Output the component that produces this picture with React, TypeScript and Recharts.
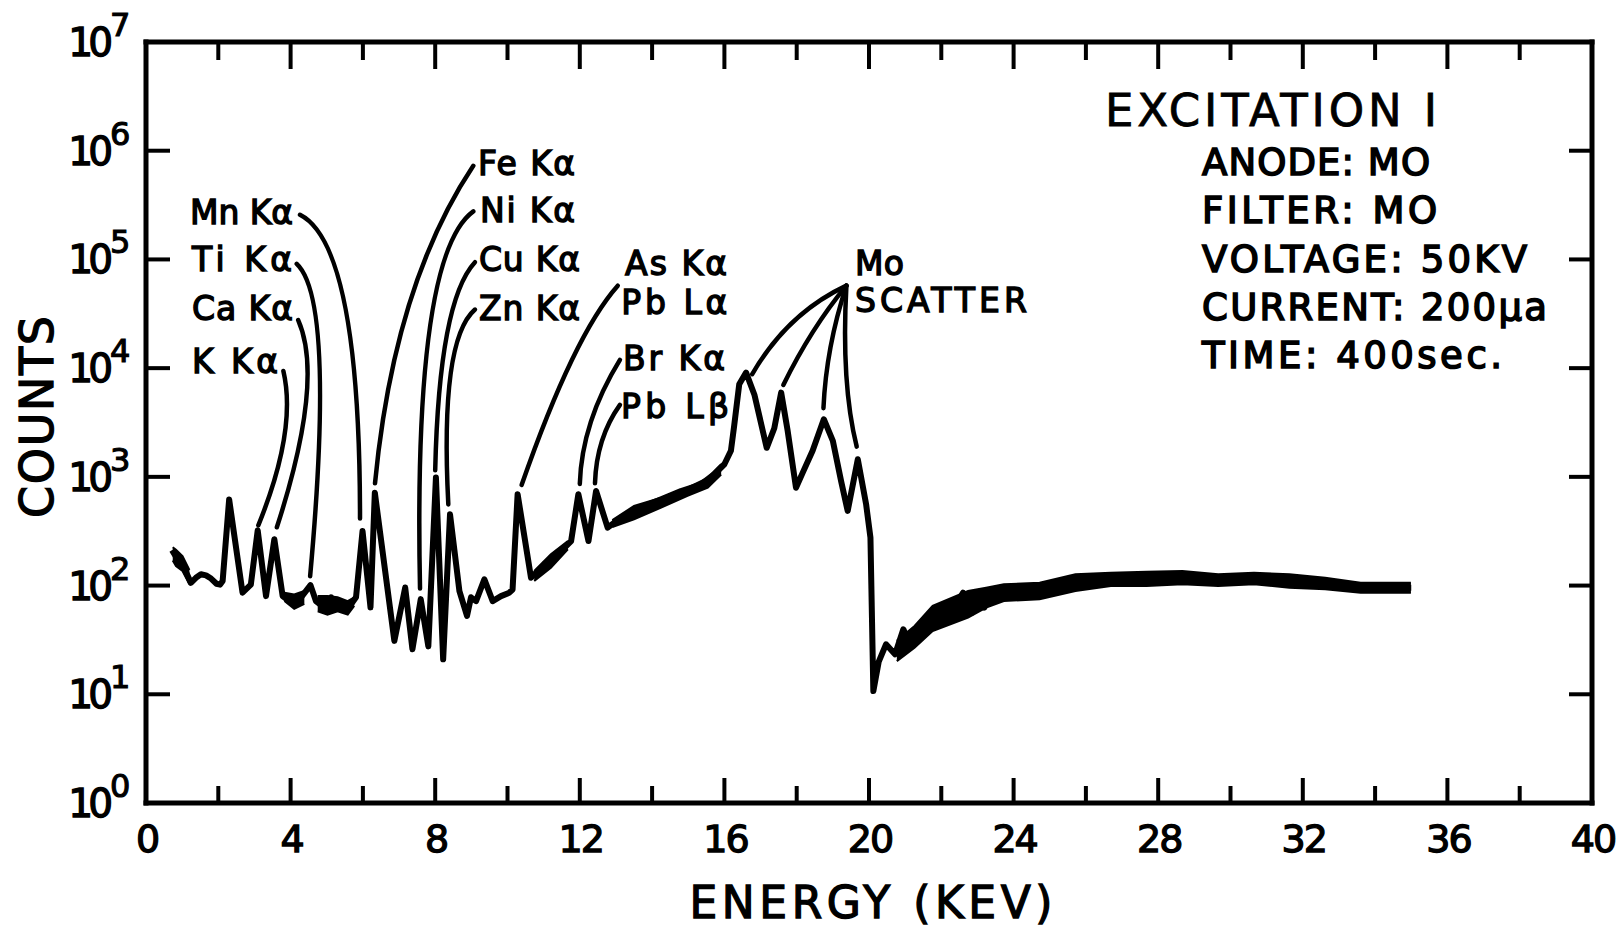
import React from 'react';
import {
  ComposedChart,
  Line,
  Area,
  XAxis,
  YAxis,
  ReferenceLine,
  ReferenceDot,
} from 'recharts';

const FONT = '"DejaVu Sans", "Liberation Sans", sans-serif';

// spectrum trace: energy (keV) and counts
const energyKeV = [
  0.72, 0.85, 0.98, 1.1, 1.24, 1.38, 1.52, 1.66, 1.8, 1.95, 2.05, 2.12, 2.3, 2.67, 2.9,
  3.09, 3.32, 3.55, 3.78, 4.01, 4.29, 4.55, 4.7, 4.98, 5.12, 5.3, 5.58, 5.81, 5.99, 6.21,
  6.33, 6.87, 7.17, 7.37, 7.6, 7.81, 8.02, 8.22, 8.41, 8.67, 8.88, 8.99, 9.13, 9.36, 9.59,
  9.82, 10.05, 10.14, 10.28, 10.65, 11.02, 11.39, 11.76, 11.96, 12.24, 12.45, 12.77, 13.14,
  13.69, 14.25, 14.8, 15.35, 15.72, 16.0, 16.18, 16.27, 16.41, 16.6, 16.83, 17.17, 17.38,
  17.57, 17.75, 17.98, 18.17, 18.44, 18.75, 19.0, 19.23, 19.41, 19.69, 19.92, 20.04, 20.12,
  20.27, 20.47, 20.72, 20.95, 21.11, 21.36, 21.8, 21.95, 22.2, 22.6, 22.84, 23.09, 23.19,
  23.34, 23.93, 24.72, 25.31, 25.9, 26.7, 27.7, 28.6, 29.3, 29.66, 30.65, 31.64, 32.63,
  33.6, 35.0,
];
const counts = [
  212, 180, 158, 135, 106, 118, 127, 124, 116, 104, 102, 110, 620, 86, 102,
  322, 80, 267, 80, 70, 78, 101, 72, 61, 78, 68, 61, 78, 318, 63,
  716, 31, 96, 26, 75, 27.6, 985, 21, 453, 89, 52.5, 78, 72, 114, 72,
  80, 86, 92, 692, 118, 157, 194, 257, 692, 257, 741, 341, 422,
  521, 621, 741, 851, 1057, 1306, 1737, 2950, 7100, 9100, 5700, 1850, 2800,
  5960, 2650, 795, 1100, 1740, 3390, 2140, 910, 486, 1450, 560, 276, 10.7,
  20, 28.8, 23.3, 39.6, 29.8, 38.2, 47, 62.6, 50.7, 86, 56, 89, 62.6,
  83, 92.5, 95.7, 92.5, 114, 114, 118, 122, 106, 118, 118, 114, 106,
  95.7, 95.7,
];

// noisy stretches where the trace is a thick ribbon: lower / upper edge
const startKeV = [0.74, 0.83, 1.01, 1.2];
const startLow = [170, 151, 136, 103];
const startHigh = [225, 214, 187, 139];

const caKeV = [3.83, 4.1, 4.38];
const caLow = [72, 61, 68];
const caHigh = [86, 83, 89];

const mnKeV = [4.75, 5.02, 5.3, 5.58, 5.76];
const mnLow = [58, 54, 58, 54, 65];
const mnHigh = [80, 80, 78, 72, 78];

const asKeV = [10.74, 11.2, 11.67];
const asLow = [110, 146, 216];
const asHigh = [136, 194, 257];

const rampKeV = [12.9, 13.5, 14.25, 14.98, 15.54, 15.91];
const rampLow = [345, 407, 521, 670, 794, 1050];
const rampHigh = [400, 540, 644, 794, 980, 1306];

const tailKeV = [
  20.77, 21.26, 21.76, 22.74, 23.24, 23.73, 24.72, 25.71, 26.69, 27.68, 28.67, 29.66,
  30.65, 31.63, 32.62, 33.6, 34.99,
];
const tailLow = [20.2, 26.8, 38.2, 50.7, 62.6, 72, 74.8, 89, 99, 99, 103, 99, 103, 95.7, 92.5, 86, 86];
const tailHigh = [31, 42.5, 65, 89, 95.7, 103, 106, 127, 131.5, 134, 136, 127, 131.5, 127, 118, 106, 106];

const xTicks = [0, 2, 4, 6, 8, 10, 12, 14, 16, 18, 20, 22, 24, 26, 28, 30, 32, 34, 36, 38, 40];
const yTicks = [1, 10, 100, 1000, 10000, 100000, 1000000, 10000000];

const infoLines = ['ANODE: MO', 'FILTER: MO', 'VOLTAGE: 50KV', 'CURRENT: 200μa', 'TIME: 400sec.'];

const traceData = energyKeV.map((e, i) => ({ e, counts: counts[i] }));
const toBand = (keV: number[], low: number[], high: number[]) =>
  keV.map((e, i) => ({ e, band: [low[i], high[i]] }));
const bands = [
  toBand(startKeV, startLow, startHigh),
  toBand(caKeV, caLow, caHigh),
  toBand(mnKeV, mnLow, mnHigh),
  toBand(asKeV, asLow, asHigh),
  toBand(rampKeV, rampLow, rampHigh),
  toBand(tailKeV, tailLow, tailHigh),
];

// peak names, placed at [keV, counts] (baseline start of the text)
const peakLabels: { text: string; at: [number, number]; width: number }[] = [
  { text: 'Mn Kα', at: [1.217, 212300], width: 103 },
  { text: 'Ti Kα', at: [1.272, 78400], width: 100 },
  { text: 'Ca Kα', at: [1.272, 27750], width: 101 },
  { text: 'K Kα', at: [1.272, 9040], width: 86 },
  { text: 'Fe Kα', at: [9.184, 604000], width: 97 },
  { text: 'Ni Kα', at: [9.24, 221300], width: 95 },
  { text: 'Cu Kα', at: [9.21, 78400], width: 101 },
  { text: 'Zn Kα', at: [9.21, 27750], width: 101 },
  { text: 'As Kα', at: [13.25, 72000], width: 102 },
  { text: 'Pb Lα', at: [13.15, 31550], width: 106 },
  { text: 'Br Kα', at: [13.195, 9700], width: 102 },
  { text: 'Pb Lβ', at: [13.14, 3480], width: 108 },
  { text: 'Mo', at: [19.61, 72000], width: 49 },
  { text: 'SCATTER', at: [19.61, 32550], width: 172 },
];

// leader curves from a label down to its peak; bend = control point as a
// fraction of the run/rise from the start point
const leaders: { from: [number, number]; to: [number, number]; bend: [number, number] }[] = [
  { from: [4.26, 257000], to: [5.92, 415], bend: [1.0, 0.1] },
  { from: [4.17, 91000], to: [4.54, 122], bend: [2.88, 0.115] },
  { from: [4.21, 27650], to: [3.62, 344], bend: [-1.24, 0.289] },
  { from: [3.8, 9420], to: [3.107, 358], bend: [-0.55, 0.38] },
  { from: [9.054, 727000], to: [6.335, 873], bend: [0.807, 0.375] },
  { from: [9.054, 277000], to: [7.58, 94], bend: [1.13, 0.116] },
  { from: [9.1, 94200], to: [8.0, 1150], bend: [0.9, 0.185] },
  { from: [9.1, 34600], to: [8.363, 558], bend: [1.32, 0.156] },
  { from: [13.05, 57400], to: [10.39, 842], bend: [0.456, 0.247] },
  { from: [13.11, 11900], to: [12.0, 861], bend: [0.95, 0.5] },
  { from: [13.11, 4590], to: [12.42, 873], bend: [0.94, 0.42] },
  { from: [19.375, 57400], to: [16.77, 8800], bend: [0.63, 0.316] },
  { from: [19.375, 57400], to: [17.63, 7000], bend: [0.56, 0.43] },
  { from: [19.375, 57400], to: [18.74, 4280], bend: [0.88, 0.5] },
  { from: [19.375, 57400], to: [19.66, 1897], bend: [-0.52, 0.61] },
];

const ink = { fill: '#000', stroke: '#000' };

const BottomTick = (props: any) => {
  const { x, y, payload } = props;
  const v = payload.value as number;
  const major = v % 4 === 0;
  return (
    <g>
      {v > 0 && v < 40 && (
        <line x1={x} y1={y} x2={x} y2={y - (major ? 25 : 17)} stroke="#000" strokeWidth={4} />
      )}
      {major && (
        <text x={x + 1} y={y + 49} textAnchor="middle" fontFamily={FONT} fontSize={38}
          letterSpacing={-2} strokeWidth={1.3} {...ink}>
          {v}
        </text>
      )}
    </g>
  );
};

const LeftTick = (props: any) => {
  const { x, y, payload } = props;
  const exp = Math.round(Math.log10(payload.value));
  return (
    <g fontFamily={FONT}>
      <text x={x - 38} y={y + 14} textAnchor="end" fontSize={39} letterSpacing={-5}
        strokeWidth={1.3} {...ink}>
        10
      </text>
      <text x={x - 36} y={y - 6} fontSize={32} strokeWidth={1.1} {...ink}>
        {exp}
      </text>
    </g>
  );
};

// short inward ticks on the left and right sides of the frame
const sideTicks = (p: any) => {
  const l = Math.min(p.x1, p.x2);
  const r = Math.max(p.x1, p.x2);
  return (
    <g stroke="#000" strokeWidth={4}>
      <line x1={l} y1={p.y1} x2={l + 24} y2={p.y1} />
      <line x1={r - 23} y1={p.y1} x2={r} y2={p.y1} />
    </g>
  );
};

// inward ticks hanging from the top of the frame
const topTick = (len: number) => (p: any) => {
  const t = Math.min(p.y1, p.y2);
  return <line x1={p.x1} y1={t} x2={p.x1} y2={t + len} stroke="#000" strokeWidth={4} />;
};

const frameEdge = (p: any) => (
  <line x1={p.x1} y1={p.y1} x2={p.x2} y2={p.y2} stroke="#000" strokeWidth={5}
    strokeLinecap="square" />
);

const leaderShape = (bend: [number, number]) => (p: any) => {
  const { x1, y1, x2, y2 } = p;
  const cx = x1 + bend[0] * (x2 - x1);
  const cy = y1 + bend[1] * (y2 - y1);
  return (
    <path d={`M${x1},${y1} Q${cx},${cy} ${x2},${y2}`} fill="none" stroke="#000"
      strokeWidth={4.5} strokeLinecap="round" />
  );
};

const labelShape = (text: string, width: number) => (p: any) => (
  <text x={p.cx} y={p.cy} fontFamily={FONT} fontSize={33} textLength={width}
    lengthAdjust="spacing" strokeWidth={1.4} {...ink}>
    {text}
  </text>
);

const infoWidths = [228, 235, 325, 345, 300];

const axisLine = { stroke: '#000', strokeWidth: 5, strokeLinecap: 'square' as const };

export default function App() {
  return (
    <div style={{ position: 'absolute', left: 0, top: 0, background: '#fff' }}>
      <ComposedChart width={1623} height={930} margin={{ top: 42, right: 31, bottom: 0, left: 0 }}>
        <XAxis xAxisId="b" dataKey="e" type="number" domain={[0, 40]} ticks={xTicks} interval={0}
          height={127} tickSize={0} tickMargin={0} tickLine={false} tick={BottomTick}
          axisLine={axisLine} allowDataOverflow />
        <YAxis yAxisId="l" type="number" scale="log" domain={[1, 1e7]} ticks={yTicks} interval={0}
          width={146} tickSize={0} tickMargin={0} tickLine={false} tick={LeftTick}
          axisLine={axisLine} allowDataOverflow />

        {/* top and right edges of the frame, plus the inward ticks */}
        <ReferenceLine xAxisId="b" yAxisId="l" y={1e7} shape={frameEdge} ifOverflow="visible" />
        <ReferenceLine xAxisId="b" yAxisId="l" x={40} shape={frameEdge} ifOverflow="visible" />
        {yTicks.slice(1, -1).map((v) => (
          <ReferenceLine key={`yt-${v}`} xAxisId="b" yAxisId="l" y={v} shape={sideTicks} />
        ))}
        {xTicks.slice(1, -1).map((v) => (
          <ReferenceLine key={`xt-${v}`} xAxisId="b" yAxisId="l" x={v}
            shape={topTick(v % 4 === 0 ? 27 : 18)} />
        ))}

        {bands.map((b, i) => (
          <Area key={`band-${i}`} xAxisId="b" yAxisId="l" data={b} dataKey="band" type="linear"
            stroke="#000" strokeWidth={2} fill="#000" fillOpacity={1} dot={false} activeDot={false}
            isAnimationActive={false} />
        ))}
        <Line xAxisId="b" yAxisId="l" data={traceData} dataKey="counts" type="linear" stroke="#000"
          strokeWidth={6} strokeLinejoin="round" dot={false} activeDot={false}
          isAnimationActive={false} />

        {leaders.map((l, i) => (
          <ReferenceLine key={`leader-${i}`} xAxisId="b" yAxisId="l"
            segment={[{ x: l.from[0], y: l.from[1] }, { x: l.to[0], y: l.to[1] }]}
            shape={leaderShape(l.bend)} ifOverflow="visible" />
        ))}
        {peakLabels.map((l, i) => (
          <ReferenceDot key={`label-${i}`} xAxisId="b" yAxisId="l" x={l.at[0]} y={l.at[1]} r={0}
            shape={labelShape(l.text, l.width)} ifOverflow="visible" />
        ))}

        <g fontFamily={FONT}>
          <text x={1105} y={126} fontSize={45} textLength={332} lengthAdjust="spacing"
            strokeWidth={0.8} {...ink}>
            EXCITATION I
          </text>
          {infoLines.map((t, i) => (
            <text key={t} x={1202} y={175 + i * 48.3} fontSize={37} textLength={infoWidths[i]}
              lengthAdjust="spacing" strokeWidth={1.6} {...ink}>
              {t}
            </text>
          ))}
          <text x={871} y={918} textAnchor="middle" fontSize={44} textLength={363}
            lengthAdjust="spacing" strokeWidth={1.3} {...ink}>
            ENERGY (KEV)
          </text>
          <text transform="translate(53,417) rotate(-90)" textAnchor="middle" fontSize={46}
            textLength={202} lengthAdjust="spacing" strokeWidth={1.3} {...ink}>
            COUNTS
          </text>
        </g>
      </ComposedChart>
    </div>
  );
}
